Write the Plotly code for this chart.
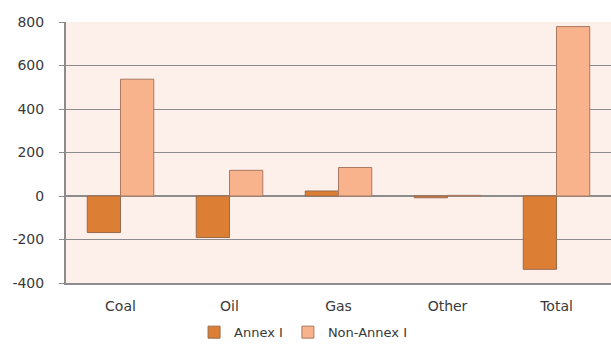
import plotly.graph_objects as go

categories = ["Coal", "Oil", "Gas", "Other", "Total"]
annex_i = [-168, -191, 23, -8, -337]
non_annex_i = [537, 118, 131, 3, 779]
y_ticks = [-400, -200, 0, 200, 400, 600, 800]

fig = go.Figure()
fig.add_trace(go.Bar(x=categories, y=annex_i, name="Annex I",
                     marker=dict(color="#dc7f34", line=dict(color="#9a6a4a", width=1))))
fig.add_trace(go.Bar(x=categories, y=non_annex_i, name="Non-Annex I",
                     marker=dict(color="#f8b28c", line=dict(color="#a87a62", width=1))))

fig.update_layout(
    width=611, height=345,
    margin=dict(l=66, r=0, t=22, b=62, autoexpand=False),
    paper_bgcolor="white",
    plot_bgcolor="#fdefea",
    barmode="group",
    bargap=0.39,
    bargroupgap=0,
    font=dict(family="DejaVu Sans, sans-serif", size=14, color="#3a3a3a"),
    showlegend=True,
    legend=dict(orientation="h", x=0.435, xanchor="center", y=-0.246, yanchor="bottom",
                font=dict(size=13, color="#3a3a3a"), itemwidth=30,
                bgcolor="rgba(0,0,0,0)"),
    xaxis=dict(showline=True, linecolor="#8c8c8c", linewidth=2, mirror=False,
               ticks="", tickfont=dict(size=14), showgrid=False, ticklabelstandoff=9),
    yaxis=dict(range=[-400, 800], tickvals=y_ticks, ticktext=[str(v) for v in y_ticks],
               showline=True, linecolor="#8c8c8c",
               linewidth=2, ticks="outside", ticklen=5, tickcolor="#8c8c8c",
               showgrid=True, gridcolor="#8c8c8c", gridwidth=1,
               zeroline=True, zerolinecolor="#8c8c8c", zerolinewidth=2,
               tickfont=dict(size=14), ticklabelstandoff=12),
)

fig.write_html("out.html")
